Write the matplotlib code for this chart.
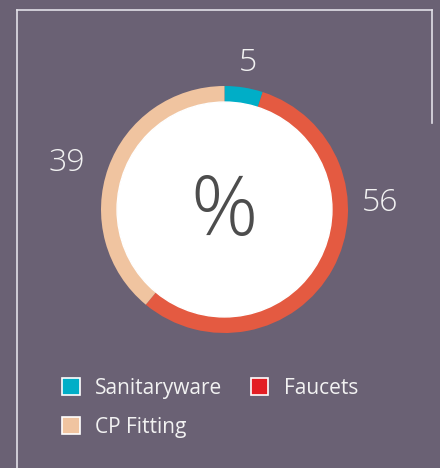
import matplotlib.pyplot as plt
from matplotlib.patches import Patch, Circle
from matplotlib.lines import Line2D

# data
categories = ['Sanitaryware', 'Faucets', 'CP Fitting']
shares = [5, 56, 39]
ring_colors = ['#00AEC7', '#E45A41', '#F0C4A0']
legend_colors = ['#00AEC7', '#E31E24', '#F0C4A0']
label_pos = [(0.19, 1.19), (1.26, 0.05), (-1.28, 0.38)]

bg = '#6A6174'
plt.rcParams['font.family'] = ['Open Sans', 'DejaVu Sans']

fig = plt.figure(figsize=(4.4, 4.68), dpi=100, facecolor=bg)

# frame lines
fig.add_artist(Line2D([17 / 440, 432 / 440], [1 - 10 / 468, 1 - 10 / 468],
                      color='#E2E0E8', lw=1.2))
fig.add_artist(Line2D([432 / 440, 432 / 440], [1 - 10 / 468, 1 - 123 / 468],
                      color='#E2E0E8', lw=1.2))
fig.add_artist(Line2D([17 / 440, 17 / 440], [1 - 10 / 468, 0],
                      color='#E2E0E8', lw=1.2))

ax = fig.add_axes([101 / 440, 135 / 468, 247 / 440, 247 / 468])
ax.set_facecolor(bg)
ax.pie(shares, colors=ring_colors, startangle=90, counterclock=False,
       wedgeprops=dict(width=0.13, linewidth=0))
ax.add_patch(Circle((0, 0), 0.87, color='white', zorder=3))
ax.set_xlim(-1, 1)
ax.set_ylim(-1, 1)
ax.set_aspect('equal')
ax.axis('off')

for v, (x, y) in zip(shares, label_pos):
    ax.text(x, y, str(v), ha='center', va='center', fontsize=23,
            color='#F2F2F2', fontweight='light', clip_on=False)

ax.text(0, -0.03, '%', ha='center', va='center', fontsize=60,
        color='#4D4D4D', fontweight='light', zorder=4)

# legend: column-wise fill, so reorder for rows
order = [0, 2, 1]
handles = [Patch(facecolor=legend_colors[i], edgecolor='white', linewidth=1.2,
                 label=categories[i]) for i in order]
fig.legend(handles=handles, loc='upper left', bbox_to_anchor=(62 / 440, 1 - 378 / 468),
           ncol=2, frameon=False, fontsize=15, labelcolor='#F2F2F2',
           handlelength=0.85, handleheight=0.85, handletextpad=0.75,
           columnspacing=1.35, labelspacing=0.85, borderaxespad=0, borderpad=0)

fig.savefig('out.png', dpi=100, facecolor=bg)
